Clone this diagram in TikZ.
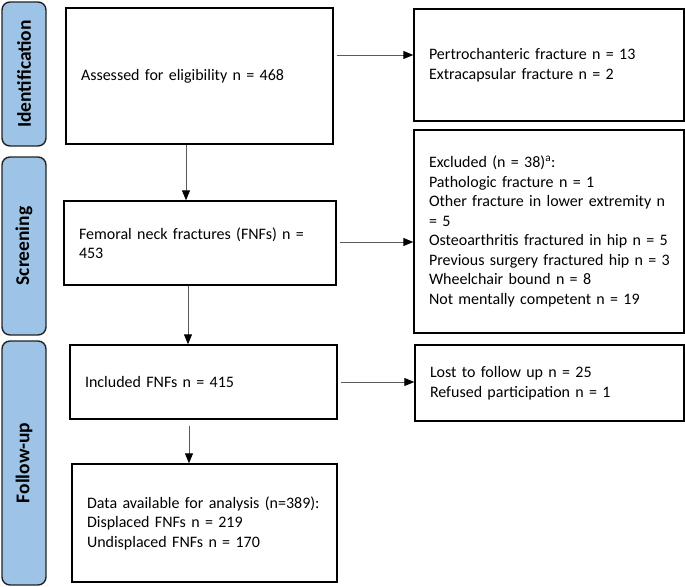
\documentclass[tikz,border=0pt]{standalone}
\usepackage{fontspec}
\setmainfont{Carlito}
\usetikzlibrary{arrows.meta}
\definecolor{barblue}{RGB}{157,195,230}
\definecolor{barline}{RGB}{35,35,35}
\definecolor{arrgray}{RGB}{90,90,90}
\newcommand{\tline}[1]{\mbox{#1}}
\tikzset{
  flowbox/.style={draw=black, line width=1.4pt, rectangle, inner xsep=15pt, inner ysep=0pt,
    align=left, font=\fontsize{16}{19.5}\selectfont, anchor=center},
  sidebar/.style={draw=barline, fill=barblue, line width=1.4pt, rounded corners=8pt},
  sidelabel/.style={rotate=90, font=\fontsize{19.5}{22}\selectfont\bfseries, text=black},
  flowarrow/.style={draw=arrgray, line width=0.9pt, -{Triangle[length=10pt,width=8pt,fill=black,color=black]}}
}
\begin{document}
\begin{tikzpicture}[x=1pt,y=-1pt]
\useasboundingbox (0,0) rectangle (685,586);
% side bars
\draw[sidebar] (2,2) rectangle (46,146);
\draw[sidebar] (2,157) rectangle (46,335);
\draw[sidebar] (2,341) rectangle (46,585);
\node[sidelabel] (lid) at (24,74) {Identification};
\node[sidelabel] (lsc) at (24,246) {Screening};
\node[sidelabel] (lfu) at (24,463) {Follow-up};
% main boxes
\node[flowbox, text width=237pt, minimum height=136pt] (b1) at (199.5,76) {\tline{Assessed for eligibility n = 468}};
\node[flowbox, text width=242pt, minimum height=84pt] (b2) at (200,243) {\tline{Femoral neck fractures (FNFs) n =}\\\tline{453}};
\node[flowbox, text width=237pt, minimum height=74pt] (b3) at (203.5,382) {\tline{Included FNFs n = 415}};
\node[flowbox, text width=235pt, minimum height=118pt] (b4) at (204.5,523) {\tline{Data available for analysis (n=389):}\\\tline{Displaced FNFs n = 219}\\\tline{Undisplaced FNFs n = 170}};
% right boxes
\node[flowbox, text width=240pt, minimum height=112pt] (r1) at (549,65) {\tline{Pertrochanteric fracture n = 13}\\\tline{Extracapsular fracture n = 2}};
\node[flowbox, text width=240pt, minimum height=203pt] (r2) at (549,231.5) {\tline{Excluded (n = 38)\textsuperscript{a}:}\\\tline{Pathologic fracture n = 1}\\\tline{Other fracture in lower extremity n}\\\tline{= 5}\\\tline{Osteoarthritis fractured in hip n = 5}\\\tline{Previous surgery fractured hip n = 3}\\\tline{Wheelchair bound n = 8}\\\tline{Not mentally competent n = 19}};
\node[flowbox, text width=239pt, minimum height=76pt] (r3) at (549.5,383) {\tline{Lost to follow up n = 25}\\\tline{Refused participation n = 1}};
% vertical arrows
\draw[flowarrow] ([xshift=-13.5pt]b1.south) -- ([xshift=-14pt]b2.north);
\draw[flowarrow] ([xshift=-12pt]b2.south) -- ([xshift=-15.5pt]b3.north);
\draw[flowarrow] ([xshift=-14.5pt,yshift=-6pt]b3.south) -- ([xshift=-15.5pt]b4.north);
% horizontal arrows
\coordinate (h1) at ([xshift=3pt,yshift=21pt]b1.east);
\coordinate (h2) at ([xshift=3pt,yshift=1pt]b2.east);
\coordinate (h3) at ([xshift=3pt]b3.east);
\draw[flowarrow] (h1) -- (h1 -| r1.west);
\draw[flowarrow] (h2) -- (h2 -| r2.west);
\draw[flowarrow] (h3) -- (h3 -| r3.west);
\end{tikzpicture}
\end{document}
